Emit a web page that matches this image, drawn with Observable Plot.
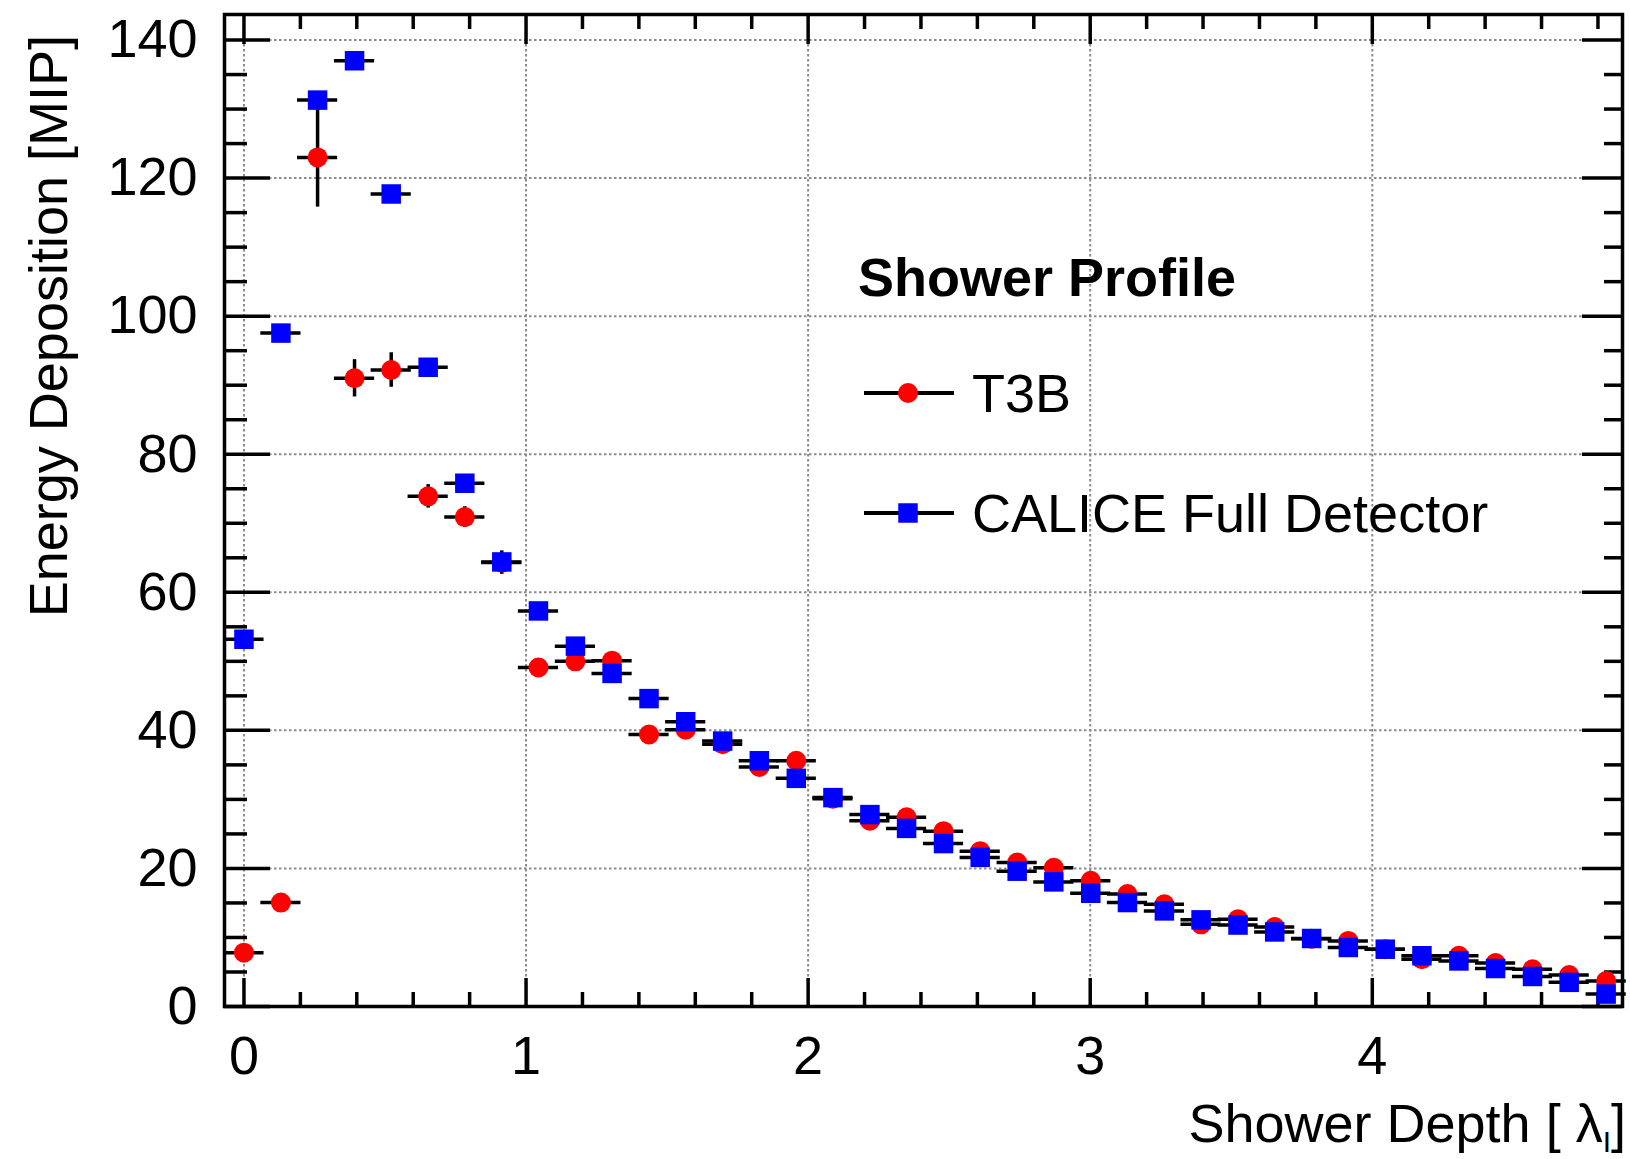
<!DOCTYPE html>
<html><head><meta charset="utf-8">
<script src="https://cdn.jsdelivr.net/npm/d3@7"></script>
<script src="https://cdn.jsdelivr.net/npm/@observablehq/plot@0.6"></script>
<style>html,body{margin:0;padding:0;background:#fff;} #chart{width:1630px;height:1159px;}</style>
</head><body><div id="chart"></div>
<script>
// Shower depth (bin centres, in interaction lengths)
const depth = [0.000, 0.131, 0.261, 0.392, 0.522, 0.653, 0.783, 0.914, 1.044, 1.175,
  1.305, 1.436, 1.566, 1.697, 1.827, 1.958, 2.088, 2.219, 2.349, 2.480,
  2.610, 2.741, 2.871, 3.002, 3.132, 3.263, 3.393, 3.524, 3.654, 3.785,
  3.915, 4.046, 4.176, 4.307, 4.437, 4.568, 4.698, 4.829];
const binHalfWidth = 0.065;
// T3B energy deposition [MIP]
const t3b = [7.8, 15.05, 123.0, 91.0, 92.2, 73.9, 70.9, 64.3, 49.1, 50.0,
  50.1, 39.4, 40.1, 38.0, 34.7, 35.6, 30.1, 26.9, 27.4, 25.4,
  22.5, 20.85, 20.1, 18.2, 16.3, 14.8, 11.9, 12.65, 11.5, 9.8,
  9.5, 8.3, 6.85, 7.35, 6.3, 5.4, 4.55, 3.7];
const t3bErr = [0.6, 0.8, 7.2, 2.7, 2.5, 1.7, 1.5, 1.7, 1.0, 1.0,
  1.0, 0.9, 0.9, 0.9, 0.8, 0.8, 0.8, 0.7, 0.7, 0.7,
  0.6, 0.6, 0.6, 0.6, 0.5, 0.5, 0.5, 0.5, 0.5, 0.4,
  0.4, 0.4, 0.4, 0.4, 0.3, 0.3, 0.3, 0.3];
// CALICE full detector energy deposition [MIP]
const calice = [53.2, 97.55, 131.3, 137.0, 117.7, 92.6, 75.8, 64.4, 57.3, 52.2,
  48.25, 44.6, 41.25, 38.45, 35.6, 33.05, 30.26, 27.8, 25.8, 23.6,
  21.6, 19.6, 18.05, 16.4, 15.06, 13.85, 12.55, 11.8, 10.8, 9.85,
  8.55, 8.3, 7.35, 6.6, 5.5, 4.35, 3.5, 1.8];
const seriesNames = ["T3B", "CALICE Full Detector"];
const legendTitle = "Shower Profile";
const yTitle = "Energy Deposition [MIP]";
const xTitleMain = "Shower Depth [ \u03bb";
const xTitleSub = "I";
const xTitleEnd = "]";
const yTicks = [0, 20, 40, 60, 80, 100, 120, 140];
const xTicks = [0, 1, 2, 3, 4];
const yMinor = d3.range(5, 144, 5).filter(v => v % 20 !== 0);
const xMinor = d3.range(1, 25).map(k => k / 5).filter(v => Math.abs(v - Math.round(v)) > 1e-9);

const rows = depth.map((x, i) => ({x, red: t3b[i], redErr: t3bErr[i], blue: calice[i]}));

const W = 1630, H = 1159, mL = 224, mR = 8, mT = 14, mB = 153;
const pw = W - mL - mR, ph = H - mT - mB;
const font = "'Liberation Sans', Arial, Helvetica, sans-serif";
const lw = 3.5;
const grid = {stroke: "#8a8a8a", strokeWidth: 2, strokeDasharray: "2.5,2.5"};
const tk = {stroke: "black", strokeWidth: lw};
const fmt = d => String(d);

const plot = Plot.plot({
  width: W, height: H,
  marginLeft: mL, marginRight: mR, marginTop: mT, marginBottom: mB,
  style: {fontSize: "54px", fontFamily: font, background: "white", color: "black", overflow: "visible"},
  x: {domain: [-0.069, 4.887], label: null},
  y: {domain: [0, 143.7], label: null},
  marks: [
    Plot.ruleY(yTicks.filter(v => v > 0), {y: d => d, ...grid}),
    Plot.ruleX(xTicks, {x: d => d, ...grid}),
    Plot.tickY(yTicks, {y: d => d, insetRight: pw - 46, ...tk}),
    Plot.tickY(yMinor, {y: d => d, insetRight: pw - 23, ...tk}),
    Plot.tickY(yTicks, {y: d => d, insetLeft: pw - 40, ...tk}),
    Plot.tickY(yMinor, {y: d => d, insetLeft: pw - 18, ...tk}),
    Plot.tickX(xTicks, {x: d => d, insetTop: ph - 28, ...tk}),
    Plot.tickX(xMinor, {x: d => d, insetTop: ph - 14, ...tk}),
    Plot.tickX(xTicks, {x: d => d, insetBottom: ph - 30, ...tk}),
    Plot.tickX(xMinor, {x: d => d, insetBottom: ph - 15, ...tk}),
    Plot.axisY(yTicks, {tickSize: 0, tickPadding: 27, fontSize: 54, tickFormat: fmt}),
    Plot.axisX(xTicks, {tickSize: 0, tickPadding: 29, fontSize: 54, tickFormat: fmt}),
    Plot.ruleY(rows, {x1: d => d.x - binHalfWidth, x2: d => d.x + binHalfWidth, y: "red", stroke: "black", strokeWidth: lw, strokeLinecap: "square"}),
    Plot.ruleX(rows, {x: "x", y1: d => d.red - d.redErr, y2: d => d.red + d.redErr, stroke: "black", strokeWidth: lw}),
    Plot.dot(rows, {x: "x", y: "red", r: 10, fill: "#ff0000", symbol: "circle"}),
    Plot.ruleY(rows, {x1: d => d.x - binHalfWidth, x2: d => d.x + binHalfWidth, y: "blue", stroke: "black", strokeWidth: lw, strokeLinecap: "square"}),
    Plot.dot(rows, {x: "x", y: "blue", r: 11, fill: "#0000ff", symbol: "square"}),
    Plot.frame({stroke: "black", strokeWidth: lw})
  ]
});
document.getElementById("chart").appendChild(plot);

const svg = d3.select(plot);
const g = svg.append("g").attr("font-family", font).attr("font-size", 54).attr("fill", "black").attr("text-anchor", "start");
// y title
g.append("text").attr("transform", "translate(67,35) rotate(-90)").attr("text-anchor", "end").text(yTitle);
// x title
const xt = g.append("text").attr("x", 1626).attr("y", 1142).attr("text-anchor", "end");
xt.append("tspan").text(xTitleMain);
xt.append("tspan").attr("font-size", 30).attr("dy", 10).text(xTitleSub);
xt.append("tspan").attr("dy", -10).text(xTitleEnd);
// legend
g.append("text").attr("x", 858).attr("y", 296).attr("font-weight", "bold").text(legendTitle);
const legendRows = [{y: 393, color: "#ff0000", symbol: d3.symbolCircle, r: 10}, {y: 513, color: "#0000ff", symbol: d3.symbolSquare, r: 11}];
legendRows.forEach((L, i) => {
  g.append("line").attr("x1", 864).attr("x2", 954).attr("y1", L.y).attr("y2", L.y).attr("stroke", "black").attr("stroke-width", 4);
  g.append("path").attr("transform", `translate(908,${L.y})`).attr("d", d3.symbol(L.symbol, L.r * L.r * Math.PI)()).attr("fill", L.color);
  g.append("text").attr("x", 972).attr("y", L.y + 19).text(seriesNames[i]);
});
</script>
</body></html>
